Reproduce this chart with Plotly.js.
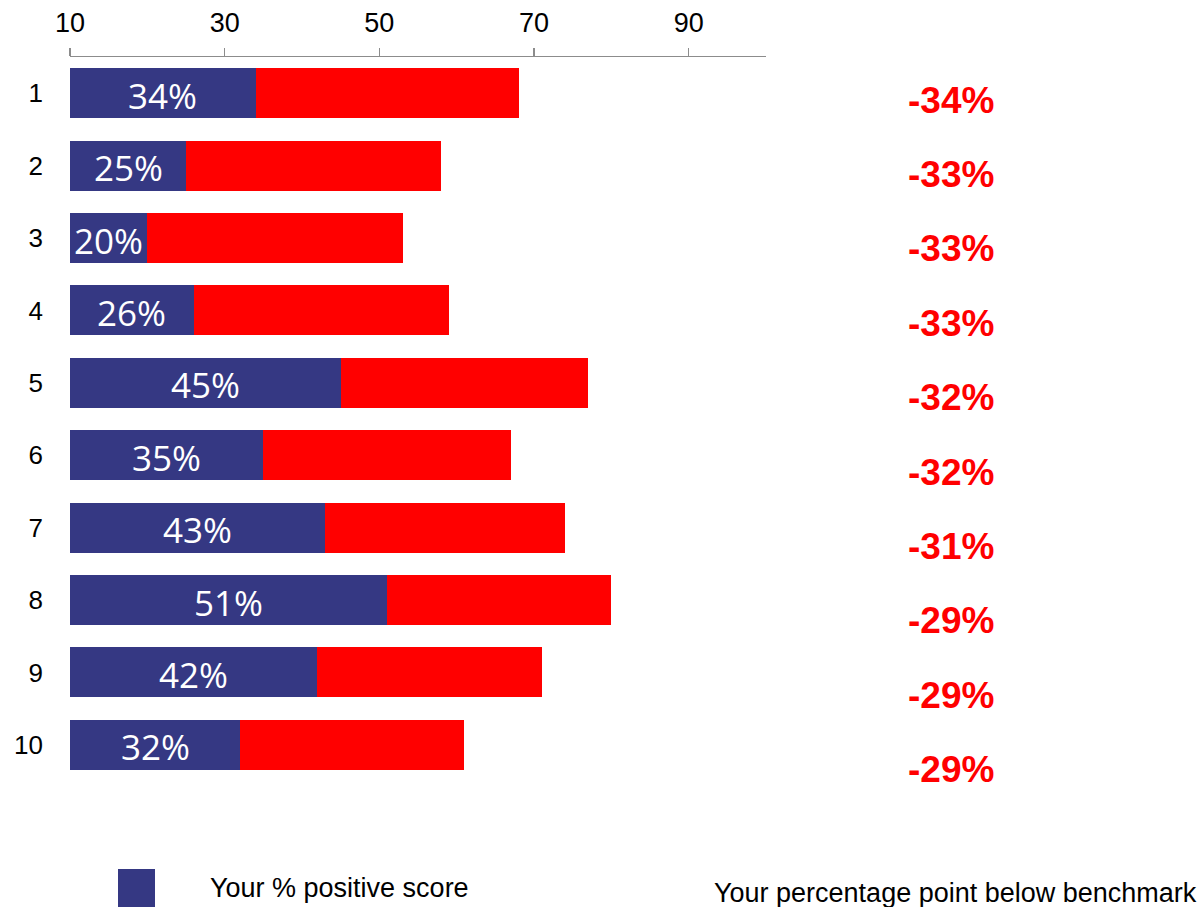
<!DOCTYPE html>
<html>
<head>
<meta charset="utf-8">
<script src="https://cdn.plot.ly/plotly-3.0.1.min.js"></script>
<style>html,body{margin:0;padding:0;background:#fff;}#chart{width:1197px;height:907px;}</style>
</head>
<body>
<div id="chart"></div>
<script>
const categories = ['1','2','3','4','5','6','7','8','9','10'];
const positiveScore = [34, 25, 20, 26, 45, 35, 43, 51, 42, 32];
const belowBenchmark = [34, 33, 33, 33, 32, 32, 31, 29, 29, 29];
const xTicks = [10, 30, 50, 70, 90];
const legendPositive = 'Your % positive score';
const legendBelow = 'Your percentage point below benchmark';

const W = 1197, H = 907;
const L = 70, R = 431, T = 57, B = 126;
const plotW = W - L - R, plotH = H - T - B;
const xMin = 10, xMax = 100;
const px2paperX = p => (p - L) / plotW;
const px2paperY = p => (H - B - p) / plotH;

const blue = '#353883';
const red = '#FF0000';
const arial = 'Liberation Sans, Arial, sans-serif';

const traces = [
  {type:'bar', orientation:'h', y:categories, x:positiveScore, marker:{color:blue}, name:legendPositive, hoverinfo:'x+y'},
  {type:'bar', orientation:'h', y:categories, x:belowBenchmark, marker:{color:red}, name:legendBelow, hoverinfo:'x+y'}
];

const annotations = [];
categories.forEach((c, i) => {
  annotations.push({
    x: (xMin + positiveScore[i]) / 2, y: i, xref:'x', yref:'y',
    xanchor:'center', yanchor:'middle',
    text: positiveScore[i] + '%', showarrow:false,
    font:{family:'Open Sans, Arial, sans-serif', size:35, color:'#ffffff'}, yshift:-2
  });
  annotations.push({
    x: px2paperX(951), y: px2paperY(100 + i * 74.4), xref:'paper', yref:'paper',
    xanchor:'center', yanchor:'middle',
    text: '<b>-' + belowBenchmark[i] + '%</b>', showarrow:false,
    font:{family:arial, size:37, color:red}
  });
});
annotations.push({
  x: px2paperX(208), y: px2paperY(888), xref:'paper', yref:'paper',
  xanchor:'left', yanchor:'middle',
  text: legendPositive, showarrow:false,
  font:{family:arial, size:27, color:'#000'}
});
annotations.push({
  x: px2paperX(712), y: px2paperY(893), xref:'paper', yref:'paper',
  xanchor:'left', yanchor:'middle',
  text: legendBelow, showarrow:false,
  font:{family:arial, size:27, color:'#000'}
});

const shapes = [{
  type:'rect', xref:'paper', yref:'paper',
  x0: px2paperX(118), x1: px2paperX(155), y0: px2paperY(869), y1: px2paperY(915),
  fillcolor: blue, line:{width:0}
}];

const layout = {
  width: W, height: H,
  margin:{l:L, r:R, t:T, b:B, pad:0, autoexpand:false},
  paper_bgcolor:'#fff', plot_bgcolor:'#fff',
  barmode:'stack', bargap:0.31,
  showlegend:false,
  font:{family:arial, color:'#000'},
  xaxis:{
    side:'top', range:[xMin, xMax], tickvals:xTicks, ticktext:xTicks.map(String),
    showgrid:false, zeroline:false, showline:true, linecolor:'#8c8c8c', linewidth:1.5,
    ticks:'outside', ticklen:8, tickcolor:'#8c8c8c', tickwidth:1.5,
    tickfont:{size:27, family:arial, color:'#000'},
    ticklabelstandoff: 5, fixedrange:true, automargin:false
  },
  yaxis:{
    type:'category', autorange:'reversed', showgrid:false, zeroline:false, showline:false,
    ticks:'', ticklabelstandoff:26,
    tickfont:{size:26, family:arial, color:'#000'},
    fixedrange:true, automargin:false
  },
  annotations: annotations,
  shapes: shapes
};

Plotly.newPlot('chart', traces, layout, {displayModeBar:false, staticPlot:true});
</script>
</body>
</html>
